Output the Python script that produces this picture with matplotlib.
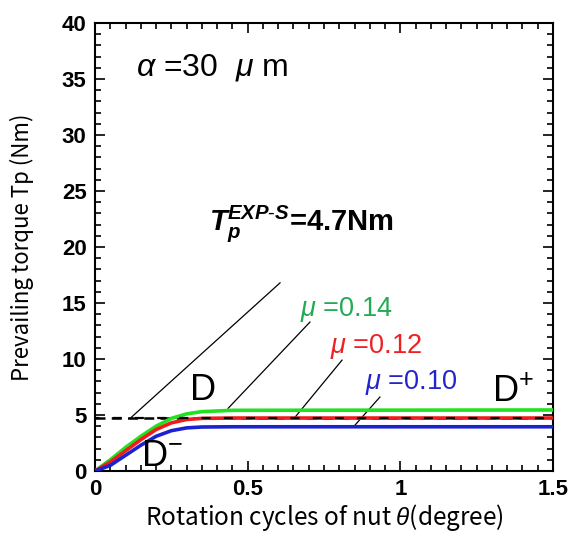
import numpy as np
import matplotlib
matplotlib.use("Agg")
from matplotlib import pyplot as plt
from matplotlib.ticker import MultipleLocator, FuncFormatter

plt.rcParams['font.family'] = ['Liberation Sans', 'DejaVu Sans']
plt.rcParams['mathtext.fontset'] = 'custom'
plt.rcParams['mathtext.rm'] = 'Liberation Sans'
plt.rcParams['mathtext.it'] = 'Liberation Sans:italic'
plt.rcParams['mathtext.bf'] = 'Liberation Sans:bold'
plt.rcParams['mathtext.bfit'] = 'Liberation Sans:bold:italic'

# rotation (cycles) and prevailing torque (Nm) for each friction coefficient
theta = [0.0, 0.05, 0.10, 0.15, 0.20, 0.25, 0.30, 0.35, 0.45, 1.5]
tp_014 = [0.0, 1.0, 2.1, 3.1, 4.0, 4.7, 5.1, 5.3, 5.42, 5.45]
tp_012 = [0.0, 0.8, 1.8, 2.8, 3.7, 4.3, 4.6, 4.7, 4.73, 4.73]
tp_010 = [0.0, 0.5, 1.4, 2.3, 3.1, 3.6, 3.85, 3.93, 3.95, 3.95]
tp_exp = 4.7

fig = plt.figure(figsize=(5.71, 5.35), dpi=100)
ax = fig.add_axes([0.1664, 0.1196, 0.8021, 0.8374])

ax.axhline(tp_exp, color='black', lw=1.8, ls=(0, (4, 2.5)), zorder=2)
ax.plot(theta, tp_014, color='#22e022', lw=2.6, zorder=3)
ax.plot(theta, tp_012, color='#ee1c1c', lw=2.6, zorder=3)
ax.plot(theta, tp_010, color='#1c22d0', lw=2.6, zorder=3)
# keep the dashed reference line visible on top of the red curve
ax.axhline(tp_exp, color='black', lw=1.6, ls=(2, (4, 6)), zorder=4)

# leader lines
ax.plot([0.115, 0.606], [4.7, 16.8], color='black', lw=0.9)
ax.plot([0.436, 0.704], [5.6, 13.3], color='black', lw=0.9)
ax.plot([0.655, 0.809], [4.8, 9.9], color='black', lw=0.9)
ax.plot([0.845, 0.933], [3.9, 6.6], color='black', lw=0.9)

ax.text(0.672, 14.4, r"$\mu$ =0.14", color='#22aa55', fontsize=19.5, va='center')
ax.text(0.770, 11.1, r"$\mu$ =0.12", color='#ee2020', fontsize=19.5, va='center')
ax.text(0.885, 7.9, r"$\mu$ =0.10", color='#2424cc', fontsize=19.5, va='center')

ax.text(0.354, 7.2, "D", fontsize=26, ha='center', va='center')
ax.text(0.218, 1.3, r"D$^{-}$", fontsize=26, ha='center', va='center')
ax.text(1.37, 7.0, r"D$^{+}$", fontsize=26, ha='center', va='center')

ax.text(0.135, 36.0, r"$\alpha$ =30  $\mu$ m", fontsize=23, va='center')
ax.text(0.372, 22.1, r"$\mathbfit{T}_{\mathbfit{p}}^{\mathbfit{EXP}\mathbf{\text{-}}\mathbfit{S}}$=4.7Nm",
        fontsize=21, fontweight='bold', va='center')

ax.set_xlim(0, 1.5)
ax.set_ylim(0, 40)
ax.xaxis.set_major_locator(MultipleLocator(0.5))
ax.xaxis.set_minor_locator(MultipleLocator(0.05))
ax.yaxis.set_major_locator(MultipleLocator(5))
ax.yaxis.set_minor_locator(MultipleLocator(1))
ax.xaxis.set_major_formatter(FuncFormatter(lambda v, p: '%g' % v))
ax.tick_params(which='both', direction='in', top=True, right=True, width=1.2)
ax.tick_params(which='major', length=7, labelsize=16, pad=6)
ax.tick_params(which='minor', length=4)
for lab in ax.get_xticklabels() + ax.get_yticklabels():
    lab.set_fontweight('bold')
for s in ax.spines.values():
    s.set_linewidth(1.5)

ax.set_xlabel(r"Rotation cycles of nut $\theta$(degree)", fontsize=17.5,
              family=['Noto Sans CJK JP', 'DejaVu Sans'], va='baseline')
ax.set_ylabel("Prevailing torque Tp (Nm)", fontsize=16,
              family=['Noto Sans CJK JP', 'DejaVu Sans'], va='center')
ax.xaxis.set_label_coords(0.5, -0.1205)
ax.yaxis.set_label_coords(-0.159, 0.5)

fig.savefig("out.png", dpi=100)
